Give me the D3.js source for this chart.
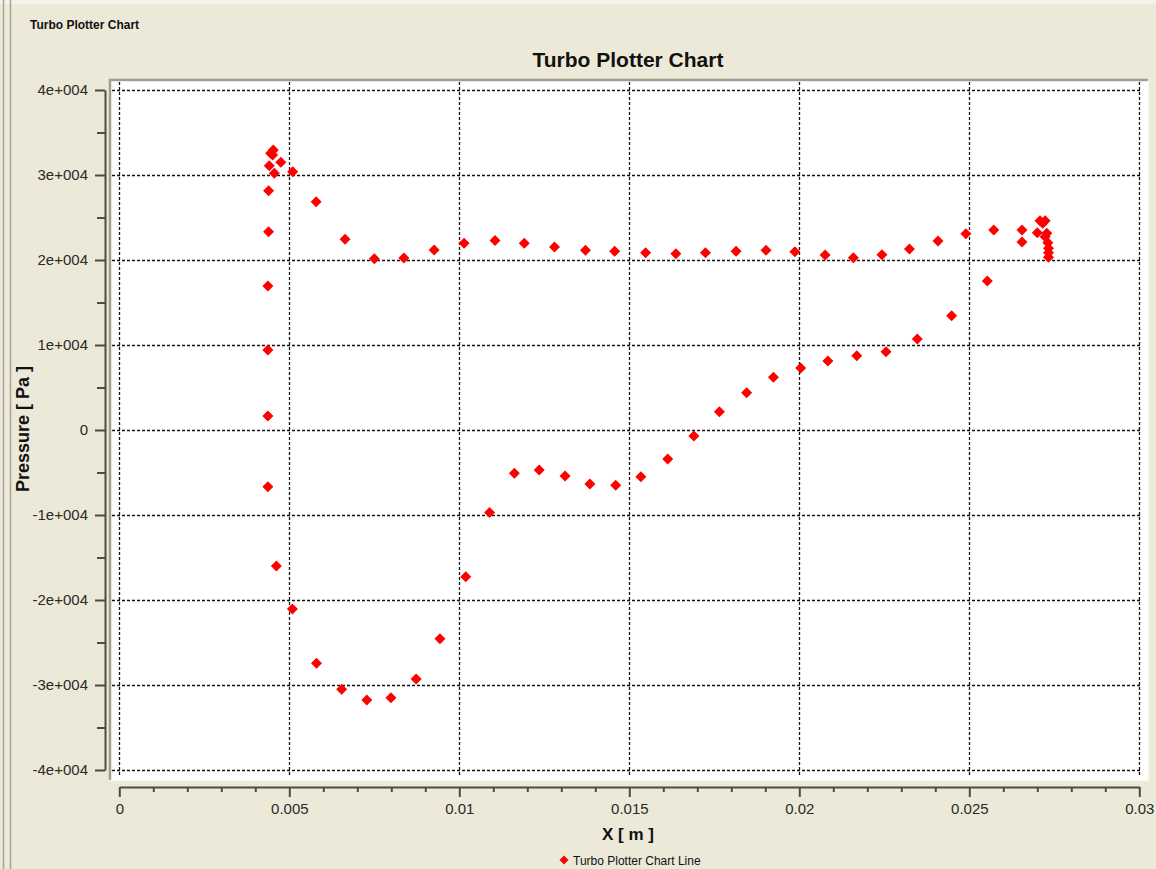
<!DOCTYPE html>
<html>
<head>
<meta charset="utf-8">
<script src="https://cdn.jsdelivr.net/npm/d3@7"></script>
<style>
  html, body { margin: 0; padding: 0; background: #ECE9D8; }
  svg { display: block; }
  text { font-family: "Liberation Sans", Arial, sans-serif; }
</style>
</head>
<body>
<svg id="chart" width="1156" height="869"></svg>
<script>
// ---- data ----
const xValues = [
  0.00437, 0.00437, 0.00462, 0.00509, 0.00580, 0.00654, 0.00728, 0.00799, 0.00873, 0.00943,
  0.01019, 0.01089, 0.01162, 0.01235, 0.01311, 0.01384, 0.01460, 0.01534, 0.01613, 0.01690,
  0.01765, 0.01845, 0.01924, 0.02004, 0.02084, 0.02169, 0.02255, 0.02347, 0.02448, 0.02553,
  0.00437, 0.00437, 0.00439, 0.00439, 0.00441, 0.00445, 0.00453, 0.00451, 0.00456, 0.00475,
  0.00510, 0.00579, 0.00664, 0.00750, 0.00837, 0.00926, 0.01014, 0.01105, 0.01191, 0.01280,
  0.01371, 0.01457, 0.01548, 0.01637, 0.01724, 0.01814, 0.01902, 0.01987, 0.02076, 0.02159,
  0.02243, 0.02324, 0.02408, 0.02490, 0.02572, 0.02655, 0.02655, 0.02700, 0.02708, 0.02723,
  0.02716, 0.02728, 0.02723, 0.02731, 0.02733, 0.02733, 0.02733
];
const pressureValues = [
  1650, -6670, -16000, -21060, -27450, -30510, -31760, -31490, -29290, -24550,
  -17250, -9720, -5100, -4710, -5410, -6350, -6510, -5490, -3410, -710,
  2150, 4390, 6200, 7290, 8120, 8750, 9220, 10710, 13450, 17530,
  9410, 16940, 23330, 28160, 31100, 32550, 32940, 32350, 30200, 31490,
  30390, 26860, 22440, 20150, 20240, 21180, 21960, 22280, 21960, 21530,
  21140, 21020, 20860, 20740, 20860, 21020, 21140, 20980, 20590, 20270,
  20630, 21290, 22240, 23100, 23530, 23530, 22120, 23220, 24630, 24630,
  24310, 23140, 22750, 22040, 21370, 20860, 20310
];
const xTickValues = [0, 0.005, 0.01, 0.015, 0.02, 0.025, 0.03];
const xTickLabels = ["0", "0.005", "0.01", "0.015", "0.02", "0.025", "0.03"];
const xMinorTicks = [0.001,0.002,0.003,0.004,0.006,0.007,0.008,0.009,0.011,0.012,0.013,0.014,
                     0.016,0.017,0.018,0.019,0.021,0.022,0.023,0.024,0.026,0.027,0.028,0.029];
const yTickValues = [40000, 30000, 20000, 10000, 0, -10000, -20000, -30000, -40000];
const yTickLabels = ["4e+004", "3e+004", "2e+004", "1e+004", "0", "-1e+004", "-2e+004", "-3e+004", "-4e+004"];
const yMinorTicks = [35000, 25000, 15000, 5000, -5000, -15000, -25000, -35000];
const chartTitle = "Turbo Plotter Chart";
const xAxisTitle = "X [ m ]";
const yAxisTitle = "Pressure [ Pa ]";
const seriesName = "Turbo Plotter Chart Line";

// ---- layout ----
const svg = d3.select("#chart");
const x = d3.scaleLinear().domain([0, 0.03]).range([119.3, 1139.3]);
const y = d3.scaleLinear().domain([-40000, 40000]).range([770, 90]);
const RED = "#FF0000";

// window frame lines on the left
svg.append("rect").attr("x", 0).attr("y", 0).attr("width", 1156).attr("height", 4).attr("fill", "#F4F2EA");
svg.append("line").attr("x1", 3.5).attr("x2", 3.5).attr("y1", 0).attr("y2", 869).attr("stroke", "#A8A598").attr("stroke-width", 1.5);
svg.append("line").attr("x1", 10.5).attr("x2", 10.5).attr("y1", 0).attr("y2", 869).attr("stroke", "#A8A598").attr("stroke-width", 1.5);

// panel caption
svg.append("text").attr("x", 30).attr("y", 29).attr("font-size", 12).attr("font-weight", "bold")
  .attr("fill", "#111").text(chartTitle);

// plot area (sunken white panel)
svg.append("rect").attr("x", 110).attr("y", 80).attr("width", 1038).attr("height", 700).attr("fill", "#FFFFFF");
svg.append("path").attr("d", "M110,780V80H1148").attr("fill", "none").attr("stroke", "#A19E90").attr("stroke-width", 2.5);
svg.append("path").attr("d", "M110,780.5H1148.5V80").attr("fill", "none").attr("stroke", "#F7F6F1").attr("stroke-width", 1.5);

// title
svg.append("text").attr("x", 628).attr("y", 67).attr("text-anchor", "middle").attr("font-size", 21)
  .attr("font-weight", "bold").attr("fill", "#111").text(chartTitle);

// grid
const grid = svg.append("g").attr("stroke", "#111").attr("stroke-width", 1.3).attr("stroke-dasharray", "3,2");
grid.selectAll("line.v").data(xTickValues).enter().append("line")
  .attr("x1", d => Math.round(x(d)) + 0.5).attr("x2", d => Math.round(x(d)) + 0.5)
  .attr("y1", 82).attr("y2", 777);
grid.selectAll("line.h").data(yTickValues).enter().append("line")
  .attr("y1", d => Math.round(y(d)) + 0.5).attr("y2", d => Math.round(y(d)) + 0.5)
  .attr("x1", 112).attr("x2", 1141);

// x axis
const axisColor = "#4E4B43";
const xAxisG = svg.append("g").attr("transform", "translate(0,787)")
  .call(d3.axisBottom(x).tickValues(xTickValues).tickSize(10).tickSizeOuter(0).tickPadding(6)
    .tickFormat((d, i) => xTickLabels[i]));
const xMinorG = svg.append("g").attr("transform", "translate(0,787)")
  .call(d3.axisBottom(x).tickValues(xMinorTicks).tickSize(5).tickSizeOuter(0).tickFormat(""));
xMinorG.select(".domain").remove();

// y axis
const yAxisG = svg.append("g").attr("transform", "translate(105,0)")
  .call(d3.axisLeft(y).tickValues(yTickValues).tickSize(10).tickSizeOuter(0).tickPadding(7)
    .tickFormat((d, i) => yTickLabels[i]));
const yMinorG = svg.append("g").attr("transform", "translate(105,0)")
  .call(d3.axisLeft(y).tickValues(yMinorTicks).tickSize(8).tickSizeOuter(0).tickFormat(""));
yMinorG.select(".domain").remove();

[xAxisG, xMinorG, yAxisG, yMinorG].forEach(g => {
  g.selectAll(".domain").attr("stroke", axisColor).attr("stroke-width", 2);
  g.selectAll(".tick line").attr("stroke", axisColor).attr("stroke-width", 2);
  g.selectAll(".tick text").attr("fill", "#2a2a2a").attr("font-size", 15)
    .attr("font-family", "'Liberation Sans', Arial, sans-serif");
});

// axis titles
svg.append("text").attr("x", 628).attr("y", 840).attr("text-anchor", "middle").attr("font-size", 17)
  .attr("font-weight", "bold").attr("fill", "#111").text(xAxisTitle);
svg.append("text").attr("transform", "translate(29,429) rotate(-90)").attr("text-anchor", "middle")
  .attr("font-size", 18).attr("font-weight", "bold").attr("fill", "#111").text(yAxisTitle);

// markers
const diamond = r => `M0,${-r}L${r},0L0,${r}L${-r},0Z`;
const points = xValues.map((v, i) => ({ x: v, p: pressureValues[i] }));
svg.append("g").selectAll("path").data(points).enter().append("path")
  .attr("d", diamond(5.5))
  .attr("transform", d => `translate(${x(d.x)},${y(d.p)})`)
  .attr("fill", RED);

// legend
const lg = svg.append("g").attr("transform", "translate(564,860)");
lg.append("path").attr("d", diamond(4.5)).attr("fill", RED);
lg.append("text").attr("x", 9).attr("y", 4.5).attr("font-size", 12).attr("fill", "#111").text(seriesName);
</script>
</body>
</html>
